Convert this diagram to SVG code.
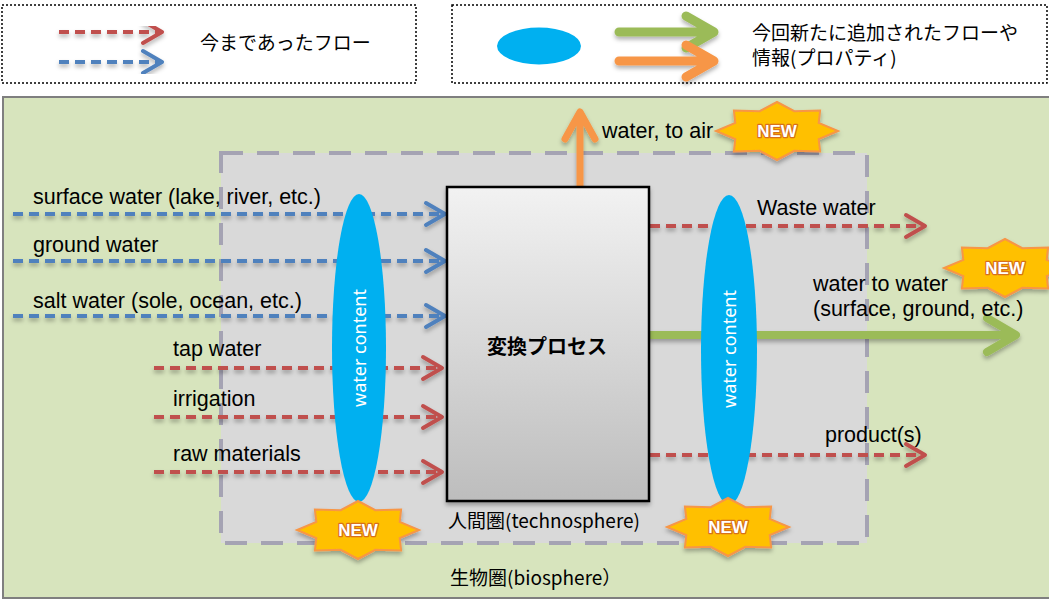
<svg xmlns="http://www.w3.org/2000/svg" xmlns:xlink="http://www.w3.org/1999/xlink" width="1049" height="600" viewBox="0 0 1049 600">
<style>
.lbl{font-family:"Liberation Sans",Arial,sans-serif;font-size:21.5px;fill:#000}
.jp{font-family:"Noto Sans CJK JP","Noto Sans",sans-serif;fill:#000}
.wc{font-family:"Noto Sans","Open Sans",sans-serif;font-size:18px;fill:#fff}
.new{font-family:"Liberation Sans",Arial,sans-serif;font-size:17px;font-weight:bold;fill:#fff;stroke:#d8701a;stroke-width:2.5;paint-order:stroke;stroke-linejoin:round}
.dr{fill:none;stroke:#c0504d;stroke-width:4;stroke-dasharray:10 6}
.db{fill:none;stroke:#4f81bd;stroke-width:4;stroke-dasharray:10 6}
.legbox{fill:#fff;stroke:#000;stroke-width:1.5;stroke-dasharray:2 2}
.star{fill:#ffc000;stroke:#f79646;stroke-width:2}
.ell{fill:#00b0f0}
</style>
<defs>
<linearGradient id="gbox" x1="0" y1="0" x2="0" y2="1">
<stop offset="0" stop-color="#f2f2f2"/>
<stop offset="1" stop-color="#bdbdbd"/>
</linearGradient>
<filter id="sh" x="-20%" y="-20%" width="140%" height="160%">
<feDropShadow dx="0" dy="3" stdDeviation="2" flood-color="#000" flood-opacity="0.3"/>
</filter>
<marker id="mr" markerUnits="userSpaceOnUse" markerWidth="26" markerHeight="28" refX="22" refY="14" orient="auto">
<path d="M3,3 L22,14 L3,25" fill="none" stroke="#c0504d" stroke-width="4" stroke-linecap="round" stroke-linejoin="round"/>
</marker>
<marker id="mb" markerUnits="userSpaceOnUse" markerWidth="26" markerHeight="28" refX="22" refY="14" orient="auto">
<path d="M3,3 L22,14 L3,25" fill="none" stroke="#4f81bd" stroke-width="4" stroke-linecap="round" stroke-linejoin="round"/>
</marker>
<polygon id="star" points="61,0 41.7,8.2 43.1,20.5 17.3,19.8 0,29 -17.3,19.8 -43.1,20.5 -41.7,8.2 -61,0 -41.7,-8.2 -43.1,-20.5 -17.3,-19.8 0,-29 17.3,-19.8 43.1,-20.5 41.7,-8.2"/>
</defs>

<!-- Legend -->
<g id="legend-old">
<rect class="legbox" x="2" y="5" width="414" height="78"/>
<g filter="url(#sh)">
<line class="dr" x1="59" y1="32" x2="162" y2="32" marker-end="url(#mr)"/>
<line class="db" x1="59" y1="62" x2="162" y2="62" marker-end="url(#mb)"/>
</g>
<text class="jp" x="200" y="50" font-size="19">今まであったフロー</text>
</g>
<g id="legend-new">
<rect class="legbox" x="452" y="5" width="595" height="78"/>
<ellipse class="ell" cx="539" cy="46" rx="42" ry="18.5"/>
<g filter="url(#sh)" fill="none" stroke-linecap="round" stroke-linejoin="round">
<path d="M619,32 H712 M686,16 L714,32 L686,48" stroke="#9bbb59" stroke-width="9"/>
<path d="M619,61 H712 M686,45 L714,61 L686,77" stroke="#f79646" stroke-width="9"/>
</g>
<text class="jp" x="752" y="40" font-size="19">今回新たに追加されたフローや</text>
<text class="jp" x="752" y="65" font-size="19">情報(プロパティ)</text>
</g>

<!-- Spheres -->
<g id="biosphere">
<rect x="3" y="97" width="1047" height="501" fill="#d7e4bd" stroke="#7f7f7f" stroke-width="2"/>
<text class="jp" x="450" y="585" font-size="19">生物圏(biosphere）</text>
</g>
<g id="technosphere">
<rect x="221" y="153" width="646" height="390" fill="#d9d9d9"/>
<rect x="221" y="153" width="646" height="390" fill="none" stroke="#a5a3b3" stroke-width="4" stroke-dasharray="22 14"/>
<text class="jp" x="448" y="528" font-size="19">人間圏(technosphere)</text>
</g>

<!-- Connectors -->
<g id="connectors" filter="url(#sh)">
<line class="db" x1="13" y1="214" x2="445" y2="214" marker-end="url(#mb)"/>
<line class="db" x1="13" y1="261" x2="445" y2="261" marker-end="url(#mb)"/>
<line class="db" x1="13" y1="316" x2="445" y2="316" marker-end="url(#mb)"/>
<line class="dr" x1="154" y1="368" x2="442" y2="368" marker-end="url(#mr)"/>
<line class="dr" x1="154" y1="417" x2="442" y2="417" marker-end="url(#mr)"/>
<line class="dr" x1="154" y1="472" x2="442" y2="472" marker-end="url(#mr)"/>
<line class="dr" x1="650" y1="226" x2="925" y2="226" marker-end="url(#mr)"/>
<line class="dr" x1="650" y1="455" x2="925" y2="455" marker-end="url(#mr)"/>
<path d="M650,335 H1013 M987,318 L1016,335 L987,352" fill="none" stroke="#9bbb59" stroke-width="8" stroke-linecap="round" stroke-linejoin="round"/>
<path d="M580,187 V115 M565,139 L580,112 L595,139" fill="none" stroke="#f79646" stroke-width="7" stroke-linecap="round" stroke-linejoin="round"/>
</g>

<!-- Labels -->
<g id="labels">
<text class="lbl" x="33" y="204">surface water (lake, river, etc.)</text>
<text class="lbl" x="33" y="252">ground water</text>
<text class="lbl" x="33" y="308">salt water (sole, ocean, etc.)</text>
<text class="lbl" x="173" y="356">tap water</text>
<text class="lbl" x="173" y="406">irrigation</text>
<text class="lbl" x="173" y="461">raw materials</text>
<text class="lbl" x="757" y="215">Waste water</text>
<text class="lbl" x="813" y="291">water to water</text>
<text class="lbl" x="813" y="316">(surface, ground, etc.)</text>
<text class="lbl" x="825" y="442">product(s)</text>
<text class="lbl" x="602" y="138">water, to air</text>
</g>

<!-- Process -->
<g id="process">
<rect x="447" y="187" width="202" height="314" fill="url(#gbox)" stroke="#000" stroke-width="2.5" filter="url(#sh)"/>
<text class="jp" x="547" y="354" font-size="20" font-weight="bold" text-anchor="middle">変換プロセス</text>
</g>

<!-- Water content ellipses -->
<g id="water-content-in">
<ellipse class="ell" cx="359" cy="348" rx="27" ry="154"/>
<text class="wc" transform="translate(359,348) rotate(-90)" text-anchor="middle" dominant-baseline="central">water content</text>
</g>
<g id="water-content-out">
<ellipse class="ell" cx="729" cy="350" rx="28" ry="155"/>
<text class="wc" transform="translate(729,349) rotate(-90)" text-anchor="middle" dominant-baseline="central">water content</text>
</g>

<!-- NEW badges -->
<g id="new-air">
<use xlink:href="#star" class="star" x="777" y="131" filter="url(#sh)"/>
<text class="new" x="777" y="137" text-anchor="middle">NEW</text>
</g>
<g id="new-water">
<use xlink:href="#star" class="star" x="1005" y="268" filter="url(#sh)"/>
<text class="new" x="1005" y="274" text-anchor="middle">NEW</text>
</g>
<g id="new-in">
<use xlink:href="#star" class="star" x="358" y="530" filter="url(#sh)"/>
<text class="new" x="358" y="536" text-anchor="middle">NEW</text>
</g>
<g id="new-out">
<use xlink:href="#star" class="star" x="728" y="527" filter="url(#sh)"/>
<text class="new" x="728" y="533" text-anchor="middle">NEW</text>
</g>
</svg>
